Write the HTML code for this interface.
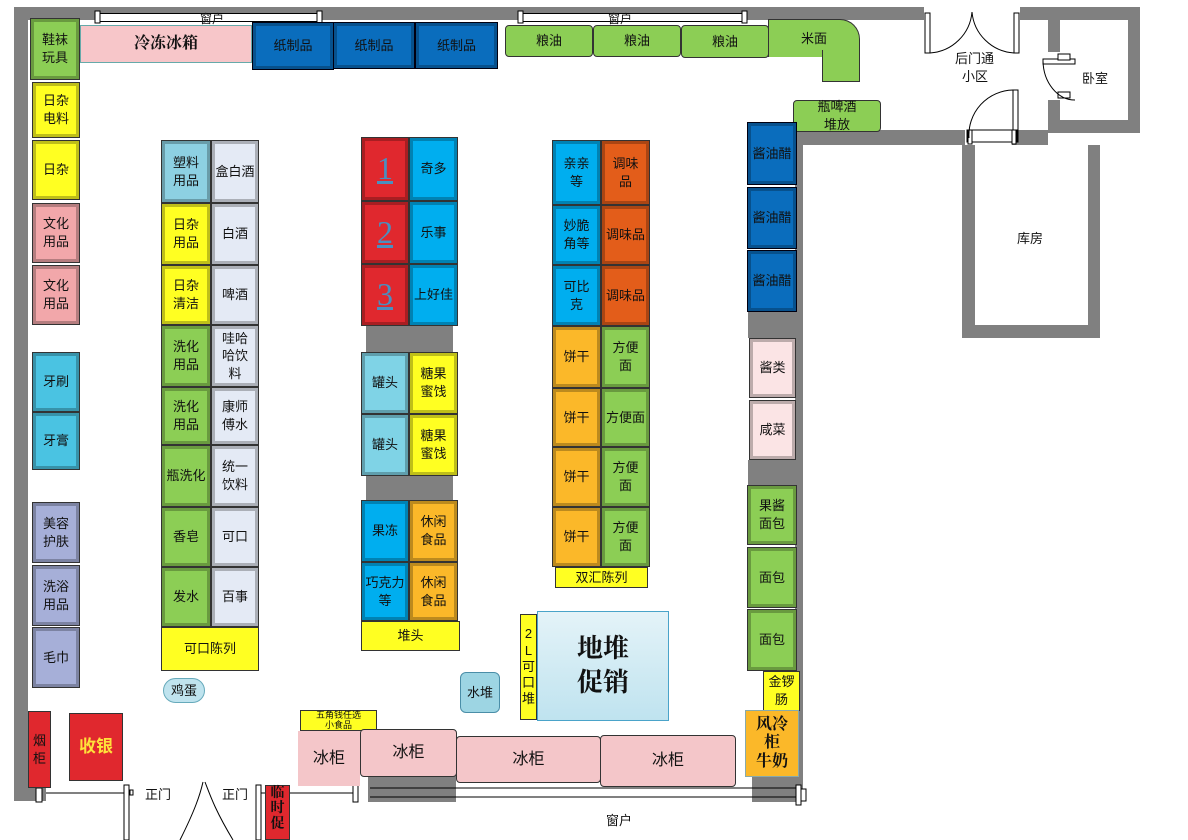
<!DOCTYPE html>
<html><head><meta charset="utf-8"><style>
*{margin:0;padding:0}
body{width:1188px;height:840px;position:relative;background:#fff;overflow:hidden;font-family:"Liberation Sans","Noto Sans CJK SC",sans-serif;}
.b{position:absolute;box-sizing:border-box;border:1px solid #333;display:flex;align-items:center;justify-content:center;text-align:center;font-size:13px;line-height:1.35;color:#111;box-shadow:inset 0 0 0 2px rgba(255,255,255,0.0),inset 0 0 0 3px rgba(0,0,0,0.25);}
.g{position:absolute;background:#808080;}
.t{position:absolute;font-size:13px;color:#111;white-space:nowrap}
.gr{background:#8cce55}.ye{background:#ffff22}.pk{background:#f2a7aa}.cy{background:#4ac3e2}.lv{background:#a6afd8}
.db{background:#0a6dbd}.lb{background:#8dd0e2}.wb{background:#e4eaf5}.rd{background:#e0282e}.bl{background:#00aeef}
.or{background:#fbb829}.dor{background:#e35d1a}.ice{background:#f4c6c9;box-shadow:none;border-radius:4px}
</style></head><body>
<!-- walls -->
<div class="g" style="left:14px;top:7px;width:14px;height:794px"></div>
<div class="g" style="left:14px;top:7px;width:1034px;height:13px"></div>
<div class="g" style="left:1048px;top:7px;width:92px;height:126px"></div>
<div style="position:absolute;left:1060px;top:20px;width:68px;height:100px;background:#fff"></div>
<div style="position:absolute;left:1046px;top:52px;width:16px;height:48px;background:#fff"></div>
<div style="position:absolute;left:924px;top:7px;width:96px;height:13px;background:#fff"></div>
<div class="g" style="left:793px;top:130px;width:172px;height:15px"></div>
<div class="g" style="left:1012px;top:130px;width:36px;height:15px"></div>
<div class="g" style="left:962px;top:145px;width:138px;height:193px"></div>
<div style="position:absolute;left:975px;top:145px;width:113px;height:180px;background:#fff"></div>
<div class="g" style="left:795px;top:130px;width:8px;height:670px"></div>
<div class="g" style="left:14px;top:788px;width:32px;height:13px"></div>
<div class="g" style="left:368px;top:776px;width:88px;height:26px"></div>
<div class="g" style="left:752px;top:776px;width:48px;height:26px"></div>
<!-- windows top -->
<div style="position:absolute;left:97px;top:13px;width:223px;height:7px;background:#fff;border-top:1px solid #000;border-bottom:1px solid #000"></div>
<div style="position:absolute;left:520px;top:13px;width:225px;height:7px;background:#fff;border-top:1px solid #000;border-bottom:1px solid #000"></div>
<div class="t" style="left:200px;top:10px;font-size:12px">窗户</div>
<div class="t" style="left:608px;top:10px;font-size:12px">窗户</div>
<svg style="position:absolute;left:0;top:0" width="1188" height="840">
<g fill="#fff" stroke="#000" stroke-width="1">
<rect x="95" y="11" width="5" height="12"/><rect x="317" y="11" width="5" height="12"/>
<rect x="518" y="11" width="5" height="12"/><rect x="742" y="11" width="5" height="12"/>
<rect x="925" y="13" width="5" height="40"/><rect x="1014" y="13" width="5" height="40"/>
<rect x="1043" y="59" width="32" height="5"/><rect x="1058" y="54" width="12" height="6"/><rect x="1058" y="92" width="12" height="6"/>
<rect x="1013" y="90" width="5" height="52"/><rect x="967" y="130" width="50" height="12"/><rect x="968" y="130" width="4" height="14"/><rect x="1012" y="130" width="4" height="14"/>
</g>
<g fill="none" stroke="#000" stroke-width="1">
<path d="M930 53 A45 45 0 0 0 972 12"/><path d="M1014 53 A45 45 0 0 1 972 12"/>
<path d="M1043 61 A32 40 0 0 0 1075 100"/><path d="M1013 90 A45 45 0 0 0 969 138"/>
<line x1="46" y1="793" x2="128" y2="793"/>
<line x1="260" y1="793" x2="358" y2="793"/>
<line x1="370" y1="788" x2="800" y2="788"/><line x1="370" y1="797" x2="800" y2="797"/>
<path d="M180 840 C195 810 200 795 203 782"/><path d="M233 840 C215 810 210 795 205 782"/>
</g>
<g fill="#fff" stroke="#000"><rect x="124" y="785" width="5" height="55"/><rect x="256" y="785" width="5" height="55"/><rect x="36" y="788" width="6" height="14"/><rect x="353" y="782" width="5" height="20"/><rect x="796" y="785" width="5" height="20"/><rect x="801" y="789" width="5" height="12"/><rect x="130" y="790" width="3" height="5"/></g>
</svg>
<!-- left column -->
<div class="b gr" style="left:30px;top:18px;width:50px;height:62px">鞋袜<br>玩具</div>
<div class="b ye" style="left:32px;top:82px;width:48px;height:56px">日杂<br>电料</div>
<div class="b ye" style="left:32px;top:140px;width:48px;height:60px">日杂</div>
<div class="b pk" style="left:32px;top:203px;width:48px;height:60px">文化<br>用品</div>
<div class="b pk" style="left:32px;top:265px;width:48px;height:60px">文化<br>用品</div>
<div class="b cy" style="left:32px;top:352px;width:48px;height:60px">牙刷</div>
<div class="b cy" style="left:32px;top:412px;width:48px;height:58px">牙膏</div>
<div class="b lv" style="left:32px;top:502px;width:48px;height:61px">美容<br>护肤</div>
<div class="b lv" style="left:32px;top:565px;width:48px;height:61px">洗浴<br>用品</div>
<div class="b lv" style="left:32px;top:627px;width:48px;height:61px">毛巾</div>
<div class="b rd" style="left:28px;top:711px;width:23px;height:77px;box-shadow:none">烟<br>柜</div>
<div class="b rd" style="left:69px;top:713px;width:54px;height:68px;box-shadow:none;color:#ffe23a;font-size:17px;font-weight:bold">收银</div>
<!-- top -->
<div class="b" style="left:80px;top:25px;width:172px;height:38px;background:#f7c6c9;border-color:#6aa;box-shadow:none;font-size:16px;font-weight:bold;font-family:'Liberation Serif','Noto Serif CJK SC',serif">冷冻冰箱</div>
<div class="b db" style="left:252px;top:22px;width:82px;height:48px;border-color:#001">纸制品</div>
<div class="b db" style="left:333px;top:22px;width:82px;height:47px;border-color:#001">纸制品</div>
<div class="b db" style="left:415px;top:22px;width:83px;height:47px;border-color:#001">纸制品</div>
<div class="b gr" style="left:505px;top:25px;width:88px;height:32px;border-radius:4px;box-shadow:none">粮油</div>
<div class="b gr" style="left:593px;top:25px;width:88px;height:32px;border-radius:4px;box-shadow:none">粮油</div>
<div class="b gr" style="left:681px;top:25px;width:88px;height:33px;border-radius:4px;box-shadow:none">粮油</div>
<div class="b gr" style="left:768px;top:19px;width:92px;height:38px;border-top-right-radius:20px;box-shadow:none;border-bottom:none">米面</div>
<div class="b gr" style="left:822px;top:50px;width:38px;height:32px;box-shadow:none;border-top:none"></div>
<div class="t" style="left:955px;top:48px">后门通</div>
<div class="t" style="left:962px;top:66px">小区</div>
<div class="t" style="left:1082px;top:68px">卧室</div>
<div class="t" style="left:1017px;top:228px">库房</div>
<div class="b gr" style="left:793px;top:100px;width:88px;height:32px;border-radius:4px;box-shadow:none">瓶啤酒<br>堆放</div>
<!-- right column -->
<div class="b db" style="left:747px;top:122px;width:50px;height:63px;border-color:#001">酱油醋</div>
<div class="b db" style="left:747px;top:187px;width:50px;height:62px;border-color:#001">酱油醋</div>
<div class="b db" style="left:747px;top:250px;width:50px;height:62px;border-color:#001">酱油醋</div>
<div class="g" style="left:748px;top:312px;width:47px;height:26px"></div>
<div class="b" style="left:749px;top:338px;width:47px;height:60px;background:#fbe4e5">酱类</div>
<div class="b" style="left:749px;top:400px;width:47px;height:60px;background:#fbe4e5">咸菜</div>
<div class="g" style="left:748px;top:460px;width:47px;height:25px"></div>
<div class="b gr" style="left:747px;top:485px;width:50px;height:60px">果酱<br>面包</div>
<div class="b gr" style="left:747px;top:547px;width:50px;height:61px">面包</div>
<div class="b gr" style="left:747px;top:609px;width:50px;height:62px">面包</div>
<div class="b ye" style="left:763px;top:671px;width:37px;height:40px;box-shadow:none">金锣<br>肠</div>
<div class="b or" style="left:745px;top:710px;width:54px;height:67px;box-shadow:none;border-color:#8aa;font-size:16px;font-weight:bold;line-height:1.15;font-family:'Liberation Serif','Noto Serif CJK SC',serif">风冷<br>柜<br>牛奶</div>
<!-- aisle 1 -->
<div class="b lb" style="left:161px;top:140px;width:50px;height:63px">塑料<br>用品</div>
<div class="b ye" style="left:161px;top:203px;width:50px;height:62px">日杂<br>用品</div>
<div class="b ye" style="left:161px;top:265px;width:50px;height:60px">日杂<br>清洁</div>
<div class="b gr" style="left:161px;top:325px;width:50px;height:62px">洗化<br>用品</div>
<div class="b gr" style="left:161px;top:387px;width:50px;height:58px">洗化<br>用品</div>
<div class="b gr" style="left:161px;top:445px;width:50px;height:62px">瓶洗化</div>
<div class="b gr" style="left:161px;top:507px;width:50px;height:60px">香皂</div>
<div class="b gr" style="left:161px;top:567px;width:50px;height:60px">发水</div>
<div class="b wb" style="left:211px;top:140px;width:48px;height:63px">盒白酒</div>
<div class="b wb" style="left:211px;top:203px;width:48px;height:62px">白酒</div>
<div class="b wb" style="left:211px;top:265px;width:48px;height:60px">啤酒</div>
<div class="b wb" style="left:211px;top:325px;width:48px;height:62px">哇哈<br>哈饮<br>料</div>
<div class="b wb" style="left:211px;top:387px;width:48px;height:58px">康师<br>傅水</div>
<div class="b wb" style="left:211px;top:445px;width:48px;height:62px">统一<br>饮料</div>
<div class="b wb" style="left:211px;top:507px;width:48px;height:60px">可口</div>
<div class="b wb" style="left:211px;top:567px;width:48px;height:60px">百事</div>
<div class="b ye" style="left:161px;top:627px;width:98px;height:44px;box-shadow:none">可口陈列</div>
<div class="b" style="left:163px;top:678px;width:42px;height:25px;border-radius:13px;background:#bfe3ee;border-color:#6ab;box-shadow:none">鸡蛋</div>
<!-- aisle 2 -->
<div class="b rd" style="left:361px;top:137px;width:48px;height:64px;font-size:32px;color:#4a8fc0;font-family:'Liberation Serif',serif;text-decoration:underline">1</div>
<div class="b rd" style="left:361px;top:201px;width:48px;height:63px;font-size:32px;color:#4a8fc0;font-family:'Liberation Serif',serif;text-decoration:underline">2</div>
<div class="b rd" style="left:361px;top:264px;width:48px;height:62px;font-size:32px;color:#4a8fc0;font-family:'Liberation Serif',serif;text-decoration:underline">3</div>
<div class="b bl" style="left:409px;top:137px;width:49px;height:64px">奇多</div>
<div class="b bl" style="left:409px;top:201px;width:49px;height:63px">乐事</div>
<div class="b bl" style="left:409px;top:264px;width:49px;height:62px">上好佳</div>
<div class="g" style="left:366px;top:326px;width:87px;height:26px"></div>
<div class="b" style="left:361px;top:352px;width:48px;height:62px;background:#7fd3e6">罐头</div>
<div class="b" style="left:361px;top:414px;width:48px;height:62px;background:#7fd3e6">罐头</div>
<div class="b ye" style="left:409px;top:352px;width:49px;height:62px">糖果<br>蜜饯</div>
<div class="b ye" style="left:409px;top:414px;width:49px;height:62px">糖果<br>蜜饯</div>
<div class="g" style="left:366px;top:476px;width:87px;height:24px"></div>
<div class="b bl" style="left:361px;top:500px;width:48px;height:62px">果冻</div>
<div class="b bl" style="left:361px;top:562px;width:48px;height:59px">巧克力<br>等</div>
<div class="b or" style="left:409px;top:500px;width:49px;height:62px">休闲<br>食品</div>
<div class="b or" style="left:409px;top:562px;width:49px;height:59px">休闲<br>食品</div>
<div class="b ye" style="left:361px;top:621px;width:99px;height:30px;box-shadow:none">堆头</div>
<!-- aisle 3 -->
<div class="b bl" style="left:552px;top:140px;width:49px;height:65px">亲亲<br>等</div>
<div class="b bl" style="left:552px;top:205px;width:49px;height:60px">妙脆<br>角等</div>
<div class="b bl" style="left:552px;top:265px;width:49px;height:61px">可比<br>克</div>
<div class="b dor" style="left:601px;top:140px;width:49px;height:65px">调味<br>品</div>
<div class="b dor" style="left:601px;top:205px;width:49px;height:60px">调味品</div>
<div class="b dor" style="left:601px;top:265px;width:49px;height:61px">调味品</div>
<div class="b or" style="left:552px;top:326px;width:49px;height:62px">饼干</div>
<div class="b or" style="left:552px;top:388px;width:49px;height:59px">饼干</div>
<div class="b or" style="left:552px;top:447px;width:49px;height:60px">饼干</div>
<div class="b or" style="left:552px;top:507px;width:49px;height:60px">饼干</div>
<div class="b gr" style="left:601px;top:326px;width:49px;height:62px">方便<br>面</div>
<div class="b gr" style="left:601px;top:388px;width:49px;height:59px">方便面</div>
<div class="b gr" style="left:601px;top:447px;width:49px;height:60px">方便<br>面</div>
<div class="b gr" style="left:601px;top:507px;width:49px;height:60px">方便<br>面</div>
<div class="b ye" style="left:555px;top:567px;width:93px;height:21px;box-shadow:none">双汇陈列</div>
<!-- promos -->
<div class="b ye" style="left:520px;top:614px;width:17px;height:106px;box-shadow:none;line-height:1.25">2<br>L<br>可<br>口<br>堆</div>
<div class="b" style="left:537px;top:611px;width:132px;height:110px;background:linear-gradient(#e4f3f8,#bfe3ef);border-color:#4aa3c9;box-shadow:none;font-size:26px;font-weight:bold;line-height:1.3;font-family:'Liberation Serif','Noto Serif CJK SC',serif">地堆<br>促销</div>
<div class="b" style="left:460px;top:672px;width:40px;height:41px;border-radius:6px;background:#9dd5e3;border-color:#4a8ea8;box-shadow:none">水堆</div>
<div class="b ye" style="left:300px;top:710px;width:77px;height:21px;box-shadow:none;font-size:9px;line-height:1.1;align-items:flex-start">五角钱任选<br>小食品</div>
<div class="b ice" style="left:298px;top:731px;width:62px;height:55px;border:none;border-radius:0;font-size:16px">冰柜</div>
<div class="b ice" style="left:360px;top:729px;width:97px;height:48px;font-size:16px">冰柜</div>
<div class="b ice" style="left:456px;top:736px;width:145px;height:47px;font-size:16px">冰柜</div>
<div class="b ice" style="left:600px;top:735px;width:136px;height:52px;font-size:16px">冰柜</div>
<div class="t" style="left:145px;top:784px">正门</div>
<div class="t" style="left:222px;top:784px">正门</div>
<div class="b rd" style="left:265px;top:785px;width:25px;height:55px;box-shadow:none;font-size:14px;font-weight:bold;line-height:1.1;align-items:flex-start;font-family:'Liberation Serif','Noto Serif CJK SC',serif">临<br>时<br>促</div>
<div class="t" style="left:606px;top:810px">窗户</div>
</body></html>
